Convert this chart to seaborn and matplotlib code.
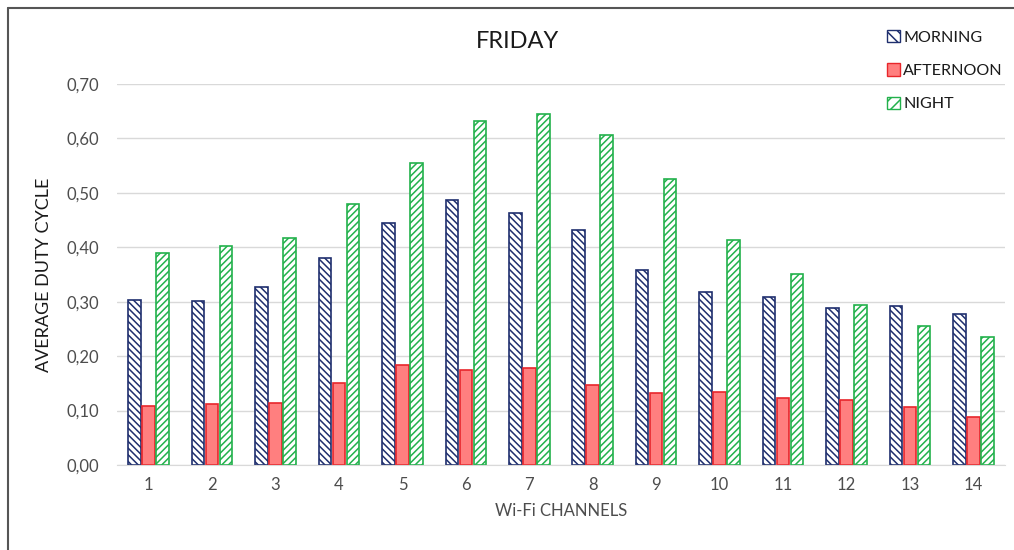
import pandas as pd
import numpy as np
import matplotlib.pyplot as plt
import seaborn as sns
from matplotlib.patches import Patch
from matplotlib.lines import Line2D

# Datos
channels = [str(c) for c in range(1, 15)]
morning = [0.303, 0.301, 0.327, 0.380, 0.445, 0.487, 0.463, 0.432, 0.358, 0.318, 0.309, 0.289, 0.292, 0.278]
afternoon = [0.108, 0.112, 0.114, 0.150, 0.184, 0.175, 0.178, 0.147, 0.132, 0.134, 0.123, 0.120, 0.107, 0.088]
night = [0.390, 0.402, 0.417, 0.480, 0.555, 0.632, 0.644, 0.607, 0.526, 0.414, 0.351, 0.294, 0.255, 0.235]
periods = ["MORNING", "AFTERNOON", "NIGHT"]

df = pd.DataFrame({
    "channel": channels * 3,
    "value": morning + afternoon + night,
    "period": np.repeat(periods, len(channels)),
})

sns.set_style("white")
plt.rcParams["font.family"] = ["Lato", "DejaVu Sans"]
plt.rcParams["hatch.linewidth"] = 1.1

edge_colors = {"MORNING": "#1f2f6e", "AFTERNOON": "#e8262b", "NIGHT": "#22b14c"}
face_colors = {"MORNING": "white", "AFTERNOON": "#ff7f7f", "NIGHT": "white"}
hatches = {"MORNING": "\\\\\\\\\\", "AFTERNOON": "", "NIGHT": "/////"}

fig = plt.figure(figsize=(10.14, 5.5), dpi=100)
ax = fig.add_axes([117 / 1014, 1 - 465 / 550, 888 / 1014, (465 - 84) / 550])

sns.barplot(data=df, x="channel", y="value", hue="period", hue_order=periods,
            width=0.66, gap=0.1, ax=ax, legend=False, errorbar=None)

for cont, p in zip(ax.containers, periods):
    for bar in cont:
        bar.set_facecolor(face_colors[p])
        bar.set_edgecolor(edge_colors[p])
        bar.set_hatch(hatches[p])
        bar.set_linewidth(1.2)

ax.set_ylim(0, 0.70)
ax.set_xlim(-0.5, len(channels) - 0.5)
yt = np.arange(0, 0.71, 0.1)
ax.set_yticks(yt)
ax.set_yticklabels([f"{v:.2f}".replace(".", ",") for v in yt])
ax.yaxis.grid(True, color="#d9d9d9", lw=1)
ax.set_axisbelow(True)
for s in ["left", "right", "top"]:
    ax.spines[s].set_visible(False)
ax.spines["bottom"].set_color("#d9d9d9")
ax.tick_params(axis="both", length=0, labelsize=12, labelcolor="#4d4d4d")
ax.tick_params(axis="y", pad=13)
ax.tick_params(axis="x", pad=9)

ax.set_xlabel("Wi-Fi CHANNELS", fontsize=12, color="#4d4d4d", labelpad=7)
ax.set_ylabel("AVERAGE DUTY CYCLE", fontsize=13, color="#1a1a1a", labelpad=10)
fig.text(518 / 1014, 1 - 42 / 550, "FRIDAY", fontsize=17, color="#1a1a1a",
         ha="center", va="center")

handles = [Patch(facecolor=face_colors[p], edgecolor=edge_colors[p],
                 hatch=hatches[p][:3], lw=1)
           for p in periods]
fig.legend(handles, periods, loc="upper left", bbox_to_anchor=(879 / 1014, 1 - 22 / 550),
           frameon=False, fontsize=11.6, handlelength=0.8, handleheight=0.8,
           handletextpad=0.2, labelspacing=1.15, borderpad=0, labelcolor="#1a1a1a")

# marco exterior
fig.add_artist(Line2D([8 / 1014, 8 / 1014], [0, 1 - 8 / 550], color="#555555", lw=1.5))
fig.add_artist(Line2D([8 / 1014, 1], [1 - 8 / 550, 1 - 8 / 550], color="#555555", lw=1.5))

fig.savefig("out.png", dpi=100)
